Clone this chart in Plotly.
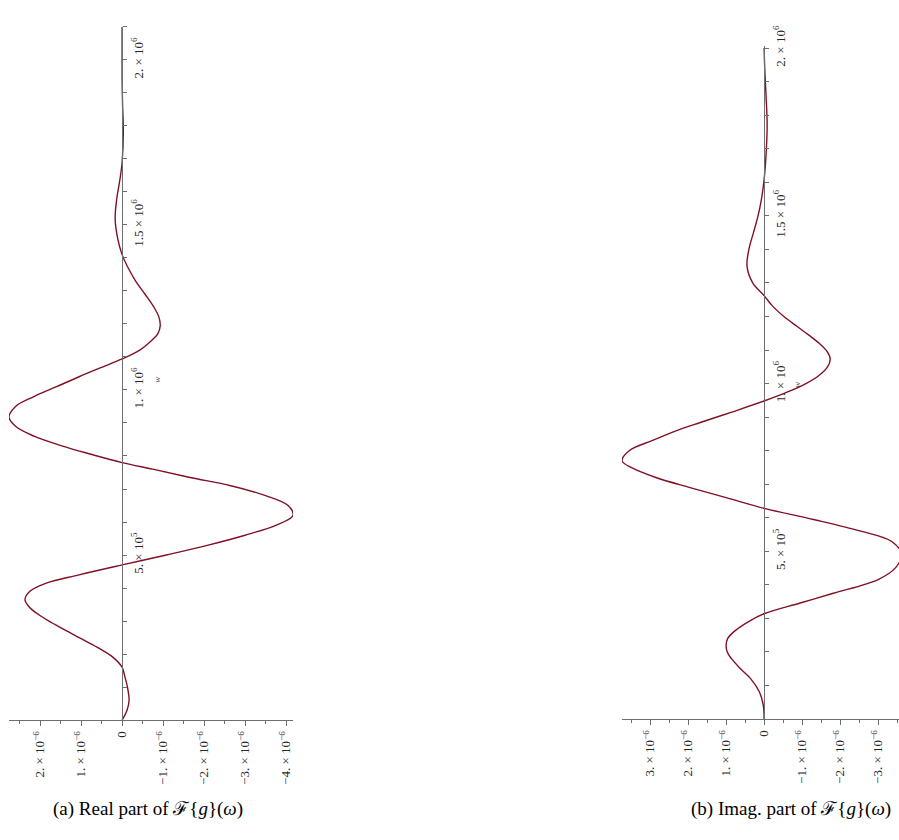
import plotly.graph_objects as go

# ---- data (w in units of 1e6, values in units of 1e-6) ----
real_w = [0.00, 0.03, 0.06, 0.10, 0.13, 0.16, 0.19, 0.22, 0.25, 0.28, 0.31, 0.34, 0.365, 0.39, 0.415, 0.44, 0.47,
          0.50, 0.53, 0.56, 0.59, 0.62, 0.65, 0.68, 0.71, 0.735, 0.76, 0.78,
          0.806, 0.83, 0.86, 0.89, 0.918, 0.95, 0.98, 1.01, 1.04, 1.066, 1.094,
          1.12, 1.15, 1.17, 1.194, 1.22, 1.25, 1.29, 1.33, 1.374, 1.41,
          1.46, 1.52, 1.58, 1.64, 1.69, 1.78, 1.87, 1.95, 2.10]
real_v = [0.00, -0.12, -0.17, -0.13, -0.07, 0.00, 0.22, 0.60, 1.05, 1.50, 1.92, 2.25, 2.37, 2.25, 1.85, 1.05, 0.00,
          -1.08, -2.10, -3.00, -3.75, -4.17, -4.05, -3.50, -2.65, -1.66, -0.75, 0.00,
          0.78, 1.45, 2.15, 2.60, 2.76, 2.60, 2.15, 1.60, 1.05, 0.55, 0.00,
          -0.42, -0.72, -0.87, -0.93, -0.90, -0.78, -0.56, -0.33, -0.13, 0.00,
          0.11, 0.17, 0.13, 0.05, 0.00, -0.03, -0.01, 0.00, 0.00]

imag_w = [0.00, 0.04, 0.08, 0.12, 0.15, 0.18, 0.20, 0.221, 0.24, 0.26, 0.29, 0.314,
          0.346, 0.375, 0.416, 0.45, 0.49, 0.53, 0.56, 0.595, 0.628,
          0.66, 0.69, 0.72, 0.75, 0.77, 0.80, 0.83, 0.86, 0.884, 0.915, 0.948,
          0.975, 1.00, 1.025, 1.05, 1.073, 1.095, 1.12, 1.145, 1.17, 1.20, 1.23, 1.262,
          1.30, 1.35, 1.40, 1.45, 1.50, 1.55, 1.608, 1.68, 1.77, 1.86, 1.93, 2.00]
imag_v = [0.00, 0.02, 0.12, 0.35, 0.62, 0.86, 0.97, 1.00, 0.96, 0.80, 0.42, 0.00,
          -0.95, -1.82, -3.00, -3.45, -3.62, -3.35, -2.55, -1.30, 0.00,
          1.00, 1.95, 2.85, 3.50, 3.74, 3.55, 2.95, 2.30, 1.68, 0.85, 0.00,
          -0.62, -1.10, -1.45, -1.67, -1.74, -1.66, -1.45, -1.17, -0.87, -0.52, -0.23, 0.00,
          0.30, 0.45, 0.40, 0.28, 0.16, 0.07, 0.00, -0.05, -0.08, -0.05, -0.02, 0.00]

w_tickvals = [0.5, 1.0, 1.5, 2.0]
w_ticktext = ["5. × 10<sup>5</sup>", "1. × 10<sup>6</sup>", "1.5 × 10<sup>6</sup>", "2. × 10<sup>6</sup>"]

real_tickvals = [2, 1, 0, -1, -2, -3, -4]
real_ticktext = ["2. × 10<sup>−6</sup>", "1. × 10<sup>−6</sup>", "0", "−1. × 10<sup>−6</sup>",
                 "−2. × 10<sup>−6</sup>", "−3. × 10<sup>−6</sup>", "−4. × 10<sup>−6</sup>"]
imag_tickvals = [3, 2, 1, 0, -1, -2, -3]
imag_ticktext = ["3. × 10<sup>−6</sup>", "2. × 10<sup>−6</sup>", "1. × 10<sup>−6</sup>", "0",
                 "−1. × 10<sup>−6</sup>", "−2. × 10<sup>−6</sup>", "−3. × 10<sup>−6</sup>"]

captions = ["(a) Real part of ℱ{<i>g</i>}(<i>ω</i>)", "(b) Imag. part of ℱ{<i>g</i>}(<i>ω</i>)"]

W, H = 899, 840
LINE = "rgb(128,16,36)"
AX = "rgb(110,110,110)"
FONT = dict(family="Liberation Serif, Times New Roman, serif", size=13, color="rgb(40,40,40)")

fig = go.Figure()
fig.add_trace(go.Scatter(x=real_v, y=real_w, mode="lines", xaxis="x", yaxis="y",
                         line=dict(color=LINE, width=1.4, shape="spline", smoothing=1.0),
                         showlegend=False, hoverinfo="skip"))
fig.add_trace(go.Scatter(x=imag_v, y=imag_w, mode="lines", xaxis="x2", yaxis="y2",
                         line=dict(color=LINE, width=1.4, shape="spline", smoothing=1.0),
                         showlegend=False, hoverinfo="skip"))

def px_x(p):
    return p / W

def px_y(p):
    return (H - p) / H

xcommon = dict(showgrid=False, zeroline=False, showline=True, linecolor=AX, linewidth=1,
               ticks="outside", ticklen=5, tickcolor=AX, tickangle=-90, tickfont=FONT,
               minor=dict(ticks="outside", ticklen=3, tickcolor=AX, dtick=0.5))
ycommon = dict(showgrid=False, zeroline=False, showline=True, linecolor=AX, linewidth=1,
               ticks="outside", ticklen=4, tickcolor=AX, tickangle=-90, tickfont=FONT,
               side="right", anchor="free",
               minor=dict(ticks="outside", ticklen=4, tickcolor=AX, dtick=0.1, tick0=0))

fig.update_layout(
    width=W, height=H, margin=dict(l=0, r=0, t=0, b=0),
    paper_bgcolor="white", plot_bgcolor="white",
    xaxis=dict(xcommon, domain=[px_x(9), px_x(293)], range=[2.76, -4.17], anchor="y",
               tickvals=real_tickvals, ticktext=real_ticktext),
    yaxis=dict(ycommon, domain=[px_y(717), px_y(6)], range=[0, 2.1],
               position=px_x(122), tickvals=w_tickvals, ticktext=w_ticktext),
    xaxis2=dict(xcommon, domain=[px_x(622), 1.0], range=[3.74, -3.55], anchor="y2",
                tickvals=imag_tickvals, ticktext=imag_ticktext),
    yaxis2=dict(ycommon, domain=[px_y(716), px_y(26)], range=[0, 2.005],
                position=px_x(764), tickvals=w_tickvals, ticktext=w_ticktext),
)

wfont = dict(family="Liberation Serif", size=9, color="rgb(60,60,60)")
fig.add_annotation(x=px_x(157), y=px_y(368), xref="paper", yref="paper", text="<i>w</i>",
                   xanchor="center", yanchor="middle", showarrow=False, textangle=-90, font=wfont)
fig.add_annotation(x=px_x(797), y=px_y(373), xref="paper", yref="paper", text="<i>w</i>",
                   xanchor="center", yanchor="middle", showarrow=False, textangle=-90, font=wfont)

cap_font = dict(family="Liberation Serif, DejaVu Serif, serif", size=19, color="black")
fig.add_annotation(x=px_x(148), y=px_y(808), xref="paper", yref="paper", text=captions[0],
                   xanchor="center", yanchor="middle", showarrow=False, font=cap_font)
fig.add_annotation(x=px_x(791), y=px_y(808), xref="paper", yref="paper", text=captions[1],
                   xanchor="center", yanchor="middle", showarrow=False, font=cap_font)

fig.write_html("out.html")
